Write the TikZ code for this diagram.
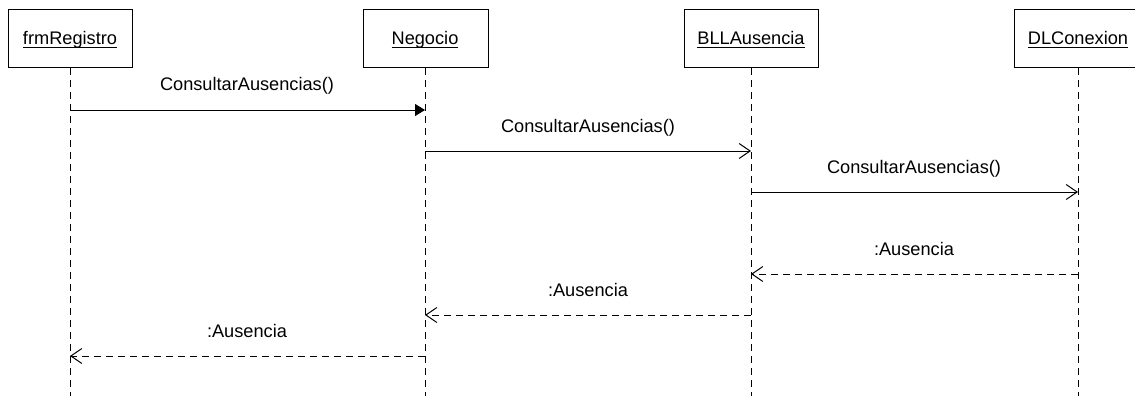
\documentclass[tikz,border=0pt]{standalone}
\usepackage{fontspec}
\setmainfont{Liberation Sans}
\usetikzlibrary{arrows.meta}
% underlined object name, rule a little below the baseline
\newcommand{\objname}[1]{\setbox0\hbox{#1}\rlap{\rule[-3.2pt]{\wd0}{0.9pt}}\box0}
\begin{document}
\begin{tikzpicture}[x=1pt,y=-1pt,
  every node/.style={font=\fontsize{18.2}{22}\selectfont, inner sep=0pt},
  objbox/.style={draw, line width=1pt, fill=white},
  lifeline/.style={line width=1pt, dash pattern=on 7pt off 5pt},
  callmsg/.style={line width=1pt, -{Triangle[length=10pt,width=12pt]}},
  syncmsg/.style={line width=1pt, -{Straight Barb[length=11pt,width=15pt,line width=1pt]}},
  retmsg/.style={line width=1pt, dash pattern=on 7pt off 5pt, -{Straight Barb[length=11pt,width=15pt,line width=1pt]}},
  msglabel/.style={anchor=base}]
\useasboundingbox (0,0) rectangle (1135,396);
\clip (0,0) rectangle (1135,396);

% object boxes
\draw[objbox] (8,10) rectangle (132,68);
\draw[objbox] (363,10) rectangle (488,68);
\draw[objbox] (684,10) rectangle (818,68);
\draw[objbox] (1014,10) rectangle (1142,68);
\node[anchor=base] (frm) at (70,45) {\objname{frmRegistro}};
\node[anchor=base] (neg) at (425,45) {\objname{Negocio}};
\node[anchor=base] (bll) at (751,45) {\objname{BLLAusencia}};
\node[anchor=base] (dlc) at (1078,45) {\objname{DLConexion}};

% lifelines
\coordinate (frmTop) at (70,68);   \coordinate (frmEnd) at (70,396);
\coordinate (negTop) at (425,68);  \coordinate (negEnd) at (425,396);
\coordinate (bllTop) at (751,68);  \coordinate (bllEnd) at (751,396);
\coordinate (dlcTop) at (1078,68); \coordinate (dlcEnd) at (1078,396);
\draw[lifeline] (frmTop) -- (frmEnd);
\draw[lifeline] (negTop) -- (negEnd);
\draw[lifeline] (bllTop) -- (bllEnd);
\draw[lifeline] (dlcTop) -- (dlcEnd);

% message end points on the lifelines
\coordinate (m1a) at (70,110);   \coordinate (m1b) at (425,110);
\coordinate (m2a) at (425,151);  \coordinate (m2b) at (751,151);
\coordinate (m3a) at (751,192);  \coordinate (m3b) at (1078,192);
\coordinate (m4a) at (1078,274); \coordinate (m4b) at (751,274);
\coordinate (m5a) at (751,315);  \coordinate (m5b) at (425,315);
\coordinate (m6a) at (425,356);  \coordinate (m6b) at (70,356);

% calls
\draw[callmsg] (m1a) -- (m1b);
\node[msglabel] (l1) at (247,91) {ConsultarAusencias()};
\draw[syncmsg] (m2a) -- (m2b);
\node[msglabel] (l2) at (588,132) {ConsultarAusencias()};
\draw[syncmsg] (m3a) -- (m3b);
\node[msglabel] (l3) at (914,173) {ConsultarAusencias()};

% returns
\draw[retmsg] (m4a) -- (m4b);
\node[msglabel] (l4) at (914,255) {:Ausencia};
\draw[retmsg] (m5a) -- (m5b);
\node[msglabel] (l5) at (588,296) {:Ausencia};
\draw[retmsg] (m6a) -- (m6b);
\node[msglabel] (l6) at (247,337) {:Ausencia};
\end{tikzpicture}
\end{document}
